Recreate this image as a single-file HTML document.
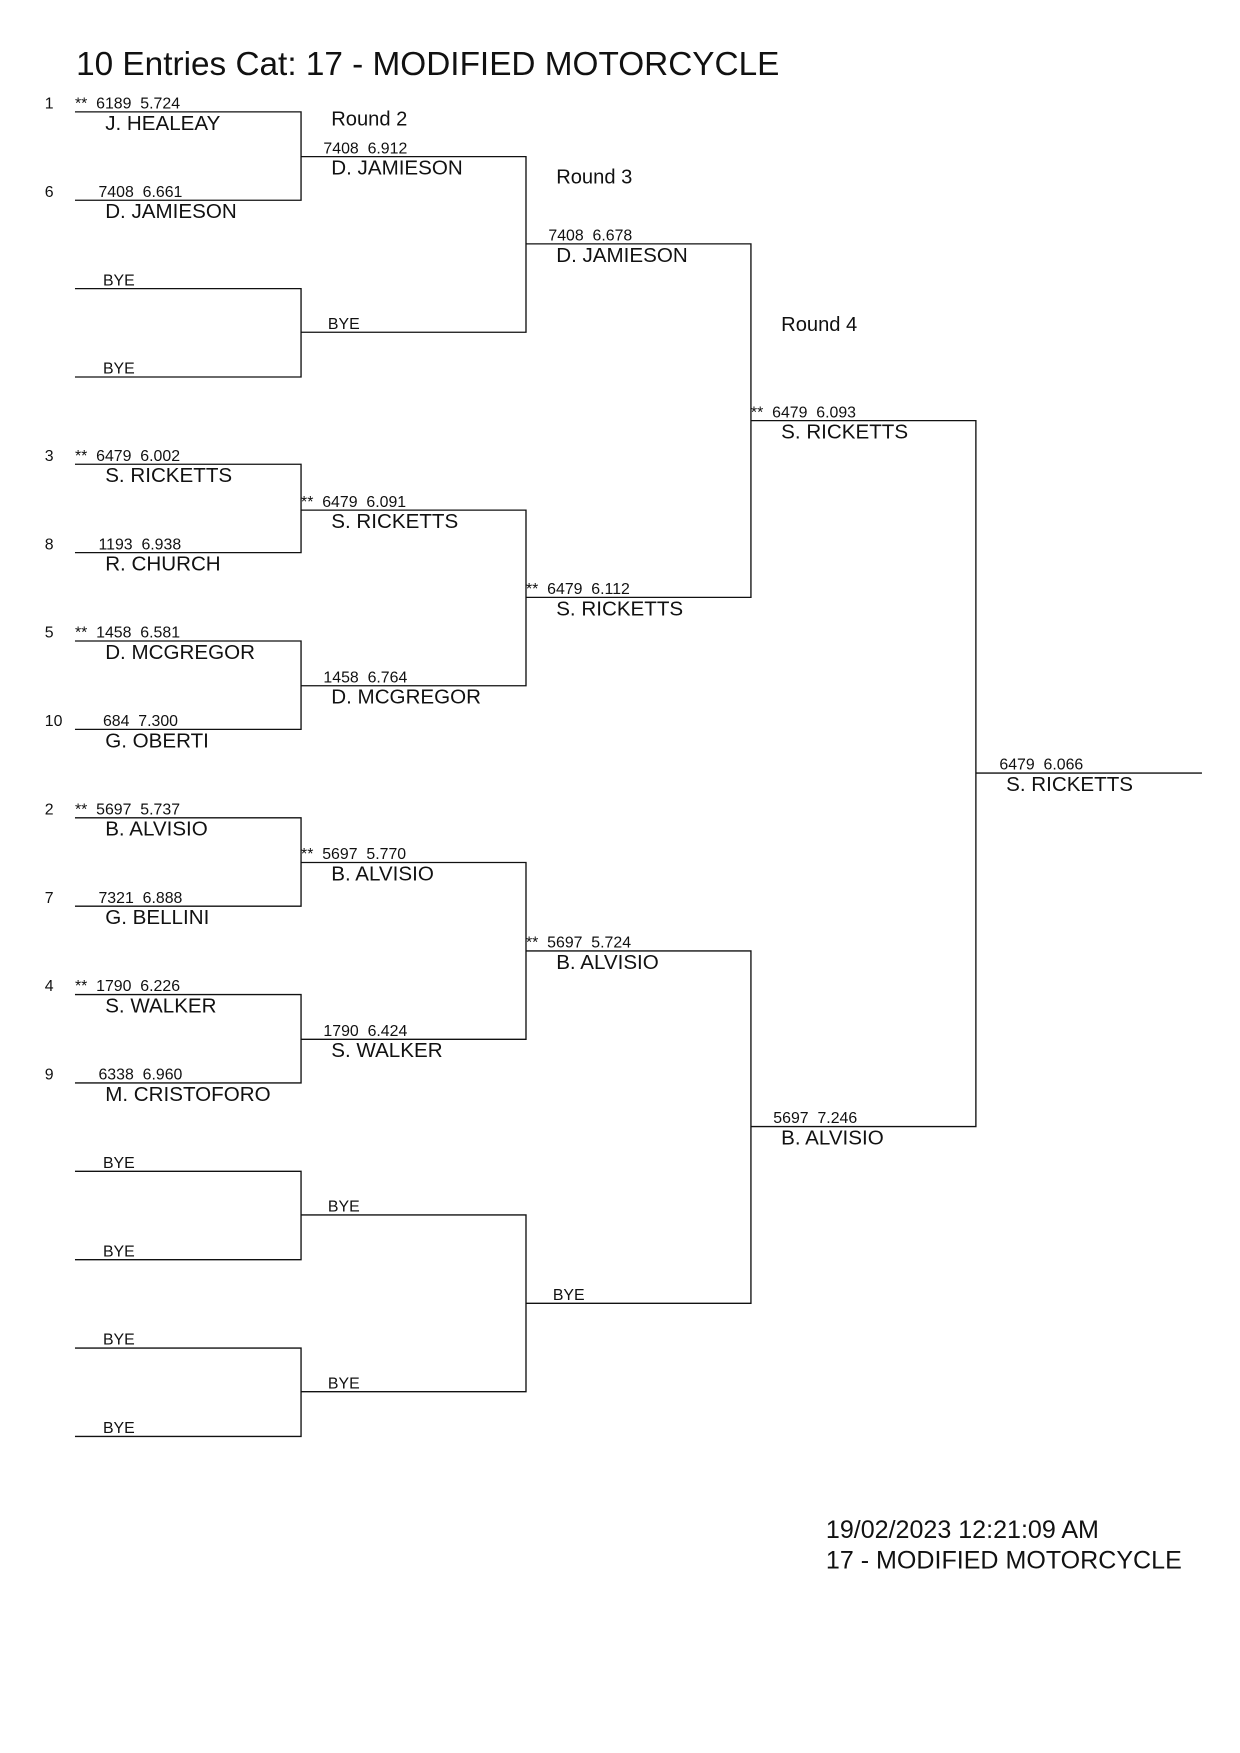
<!DOCTYPE html>
<html><head><meta charset="utf-8"><style>
html,body{margin:0;padding:0;background:#fff;}
svg{display:block;}
text{font-family:"Liberation Sans",sans-serif;fill:#111;white-space:pre;}
.s{font-size:14.2px;}
.n{font-size:18.4px;}
.r{font-size:18px;}
line,path{stroke:#111;stroke-width:1.2;fill:none;}
</style></head><body>
<svg width="1240" height="1753" viewBox="0 0 1108 1567" preserveAspectRatio="none">
<text x="68" y="67" style="font-size:29.8px">10 Entries Cat: 17 - MODIFIED MOTORCYCLE</text>
<text class="r" x="296" y="112">Round 2</text>
<text class="r" x="497" y="164">Round 3</text>
<text class="r" x="698" y="296">Round 4</text>

<path d="M67 100H269V179H67"/><path d="M67 258H269V337H67"/>
<path d="M67 415H269V494H67"/><path d="M67 573H269V652H67"/>
<path d="M67 731H269V810H67"/><path d="M67 889H269V968H67"/>
<path d="M67 1047H269V1126H67"/><path d="M67 1205H269V1284H67"/>
<path d="M269 140H470V297H269"/><path d="M269 456H470V613H269"/>
<path d="M269 771H470V929H269"/><path d="M269 1086H470V1244H269"/>
<path d="M470 218H671V534H470"/><path d="M470 850H671V1165H470"/>
<path d="M671 376H872V1007H671"/>
<line x1="872" y1="691" x2="1074" y2="691"/>

<text class="s" x="40" y="97">1</text><text class="s" x="67" y="97">**  6189  5.724</text><text class="n" x="94" y="116">J. HEALEAY</text>
<text class="s" x="40" y="176">6</text><text class="s" x="88" y="176">7408  6.661</text><text class="n" x="94" y="195">D. JAMIESON</text>
<text class="s" x="92" y="255">BYE</text>
<text class="s" x="92" y="334">BYE</text>
<text class="s" x="40" y="412">3</text><text class="s" x="67" y="412">**  6479  6.002</text><text class="n" x="94" y="431">S. RICKETTS</text>
<text class="s" x="40" y="491">8</text><text class="s" x="88" y="491">1193  6.938</text><text class="n" x="94" y="510">R. CHURCH</text>
<text class="s" x="40" y="570">5</text><text class="s" x="67" y="570">**  1458  6.581</text><text class="n" x="94" y="589">D. MCGREGOR</text>
<text class="s" x="40" y="649">10</text><text class="s" x="92" y="649">684  7.300</text><text class="n" x="94" y="668">G. OBERTI</text>
<text class="s" x="40" y="728">2</text><text class="s" x="67" y="728">**  5697  5.737</text><text class="n" x="94" y="747">B. ALVISIO</text>
<text class="s" x="40" y="807">7</text><text class="s" x="88" y="807">7321  6.888</text><text class="n" x="94" y="826">G. BELLINI</text>
<text class="s" x="40" y="886">4</text><text class="s" x="67" y="886">**  1790  6.226</text><text class="n" x="94" y="905">S. WALKER</text>
<text class="s" x="40" y="965">9</text><text class="s" x="88" y="965">6338  6.960</text><text class="n" x="94" y="984">M. CRISTOFORO</text>
<text class="s" x="92" y="1044">BYE</text>
<text class="s" x="92" y="1123">BYE</text>
<text class="s" x="92" y="1202">BYE</text>
<text class="s" x="92" y="1281">BYE</text>

<text class="s" x="289" y="137">7408  6.912</text><text class="n" x="296" y="156">D. JAMIESON</text>
<text class="s" x="293" y="294">BYE</text>
<text class="s" x="269" y="453">**  6479  6.091</text><text class="n" x="296" y="472">S. RICKETTS</text>
<text class="s" x="289" y="610">1458  6.764</text><text class="n" x="296" y="629">D. MCGREGOR</text>
<text class="s" x="269" y="768">**  5697  5.770</text><text class="n" x="296" y="787">B. ALVISIO</text>
<text class="s" x="289" y="926">1790  6.424</text><text class="n" x="296" y="945">S. WALKER</text>
<text class="s" x="293" y="1083">BYE</text>
<text class="s" x="293" y="1241">BYE</text>

<text class="s" x="490" y="215">7408  6.678</text><text class="n" x="497" y="234">D. JAMIESON</text>
<text class="s" x="470" y="531">**  6479  6.112</text><text class="n" x="497" y="550">S. RICKETTS</text>
<text class="s" x="470" y="847">**  5697  5.724</text><text class="n" x="497" y="866">B. ALVISIO</text>
<text class="s" x="494" y="1162">BYE</text>

<text class="s" x="671" y="373">**  6479  6.093</text><text class="n" x="698" y="392">S. RICKETTS</text>
<text class="s" x="691" y="1004">5697  7.246</text><text class="n" x="698" y="1023">B. ALVISIO</text>

<text class="s" x="893" y="688">6479  6.066</text><text class="n" x="899" y="707">S. RICKETTS</text>

<text x="738" y="1375" style="font-size:22.4px">19/02/2023 12:21:09 AM</text>
<text x="738" y="1402" style="font-size:22.4px">17 - MODIFIED MOTORCYCLE</text>
</svg>
</body></html>
